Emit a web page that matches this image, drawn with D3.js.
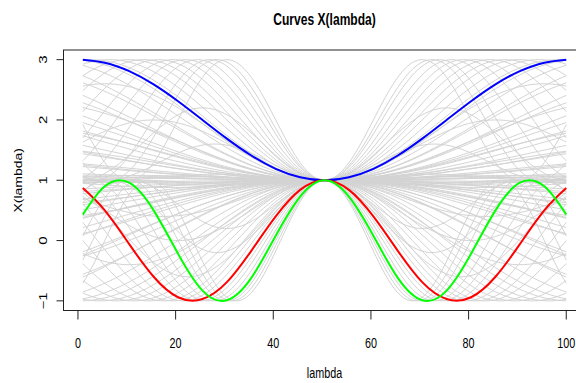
<!DOCTYPE html>
<html>
<head>
<meta charset="utf-8">
<script src="https://cdn.jsdelivr.net/npm/d3@7"></script>
<style>
  html, body { margin: 0; padding: 0; background: #fff; }
  svg { display: block; font-family: "Liberation Sans", Arial, Helvetica, sans-serif; }
</style>
</head>
<body>
<svg id="chart" width="576" height="383"></svg>
<script>
// ---- data -------------------------------------------------------------
const xTicks = [0, 20, 40, 60, 80, 100];
const yTicks = [-1, 0, 1, 2, 3];

// highlighted curves, sampled along lambda
const lambdaSamples = [1, 5.5, 10.5, 15.5, 20.5, 25.5, 30.5, 35.5, 40.5, 45.5, 50.5,
                       55.5, 60.5, 65.5, 70.5, 75.5, 80.5, 85.5, 90.5, 95.5, 100];
const blueValues  = [3.00, 2.95, 2.81, 2.59, 2.31, 2.00, 1.69, 1.41, 1.19, 1.05, 1.00,
                     1.05, 1.19, 1.41, 1.69, 2.00, 2.31, 2.59, 2.81, 2.95, 3.00];
const redValues   = [0.87, 0.50, -0.06, -0.60, -0.94, -0.97, -0.69, -0.17, 0.40, 0.84, 1.00,
                     0.84, 0.40, -0.17, -0.69, -0.97, -0.94, -0.60, -0.06, 0.50, 0.87];
const greenValues = [0.43, 0.90, 0.96, 0.50, -0.22, -0.83, -0.99, -0.62, 0.08, 0.73, 1.00,
                     0.73, 0.08, -0.62, -0.99, -0.83, -0.22, 0.50, 0.96, 0.90, 0.43];

// background family: X = 1 + depth * (cos(2*pi*(lambda - centre)/period) - 1)
const grayCentre = 50.5;
const grayDepth = [
  -1, -1, -0.95, -0.9, -0.85, -0.8, -0.75, -0.7, -0.65, -0.6, -0.55, -0.5, -0.45, -0.4, -0.35, -0.3, -0.25, -0.2, -0.15, -0.1,
  1, 1, 0.95, 0.9, 0.85, 0.8, 0.75, 0.7, 0.65, 0.6, 0.55, 0.5, 0.45, 0.4, 0.35, 0.3, 0.25, 0.2, 0.15, 0.1,
  0.04, -0.03, 0.02, -0.05, 0.06, -0.02, 0.03, -0.04,
  -1, -1, -1, -1, -1, -1, -1, -1, -1, -1, -1, -1,
  1, 1, 1, 1, 1, 1, 1, 1, 1, 1, 1, 1, 1, 1, 1,
  0.6, 0.5, 0.7, -0.6, -0.5, -0.8, 0.8, 0.4, -0.3, 0.3
];
const grayPeriod = [
  115, 130, 150, 125, 170, 140, 200, 160, 120, 230, 150, 180, 130, 260, 170, 140, 210, 160, 300, 190,
  120, 140, 165, 130, 190, 150, 220, 125, 175, 250, 140, 200, 160, 280, 135, 190, 150, 240, 170, 320,
  48, 56, 70, 44, 64, 90, 38, 76,
  40, 44, 47, 52, 57, 62, 68, 74, 80, 88, 96, 104,
  36, 38, 40, 45, 48, 51, 58, 62, 66, 72, 78, 85, 92, 100, 108,
  44, 60, 80, 50, 70, 90, 56, 40, 45, 66
];

// ---- layout -----------------------------------------------------------
const svg = d3.select("#chart");
const plot = { left: 63.5, right: 585.6, top: 50, bottom: 310.5 };
const textScaleX = 0.72;

const x = d3.scaleLinear().domain([-2.96, 103.96]).range([plot.left, plot.right]);
const y = d3.scaleLinear().domain([-1.16, 3.16]).range([plot.bottom, plot.top]);

const line = d3.line().x(d => x(d[0])).y(d => y(d[1]));

// background curves
const lambdaFine = d3.range(1, 100.001, 0.5);
const gray = svg.append("g").attr("fill", "none").attr("stroke", "#d3d3d3").attr("stroke-width", 1);
grayDepth.forEach((b, i) => {
  const T = grayPeriod[i];
  const pts = lambdaFine.map(l => [l, 1 + b * (Math.cos(2 * Math.PI * (l - grayCentre) / T) - 1)]);
  gray.append("path").attr("d", line(pts));
});

// highlighted curves
const smooth = d3.line().x(d => x(d[0])).y(d => y(d[1])).curve(d3.curveNatural);
[[blueValues, "#0000ff"], [redValues, "#ff0000"], [greenValues, "#00ff00"]].forEach(([vals, col]) => {
  svg.append("path")
    .attr("d", smooth(lambdaSamples.map((l, i) => [l, vals[i]])))
    .attr("fill", "none").attr("stroke", col).attr("stroke-width", 2);
});

// frame
svg.append("rect")
  .attr("x", plot.left).attr("y", plot.top)
  .attr("width", plot.right - plot.left).attr("height", plot.bottom - plot.top)
  .attr("fill", "none").attr("stroke", "#222").attr("stroke-width", 1);

// x axis
const xAxis = svg.append("g").attr("stroke", "#222");
xAxis.append("line").attr("x1", x(xTicks[0])).attr("x2", x(xTicks[xTicks.length - 1]))
  .attr("y1", plot.bottom).attr("y2", plot.bottom);
xTicks.forEach(t => {
  xAxis.append("line").attr("x1", x(t)).attr("x2", x(t)).attr("y1", plot.bottom).attr("y2", plot.bottom + 9);
  svg.append("text")
    .attr("transform", `translate(${x(t)},348) scale(${textScaleX},1)`)
    .attr("text-anchor", "middle").attr("font-size", 15).attr("fill", "#000")
    .text(t);
});

// y axis
const yAxis = svg.append("g").attr("stroke", "#222");
yAxis.append("line").attr("x1", plot.left).attr("x2", plot.left)
  .attr("y1", y(yTicks[0])).attr("y2", y(yTicks[yTicks.length - 1]));
yTicks.forEach(t => {
  yAxis.append("line").attr("x1", plot.left - 7).attr("x2", plot.left).attr("y1", y(t)).attr("y2", y(t));
  svg.append("text")
    .attr("transform", `translate(47,${y(t)}) rotate(-90) scale(1,${textScaleX})`)
    .attr("text-anchor", "middle").attr("font-size", 15).attr("fill", "#000")
    .text(t < 0 ? "\u2212" + Math.abs(t) : t);
});

// titles
svg.append("text")
  .attr("transform", `translate(${(plot.left + plot.right) / 2},25) scale(0.71,1)`)
  .attr("text-anchor", "middle").attr("font-size", 17).attr("font-weight", "bold")
  .text("Curves X(lambda)");
svg.append("text")
  .attr("transform", `translate(${(plot.left + plot.right) / 2},378) scale(${textScaleX},1)`)
  .attr("text-anchor", "middle").attr("font-size", 15)
  .text("lambda");
svg.append("text")
  .attr("transform", `translate(22,${y(1)}) rotate(-90) scale(1,${textScaleX})`)
  .attr("text-anchor", "middle").attr("font-size", 14)
  .text("X(lambda)");
</script>
</body>
</html>
